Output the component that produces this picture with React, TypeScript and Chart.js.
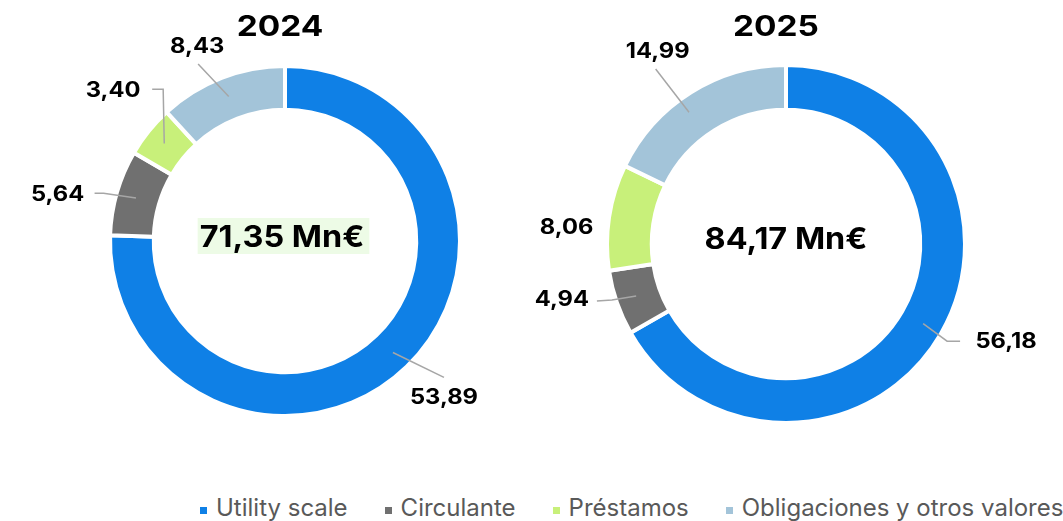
import React, { useEffect, useRef } from 'react';
import { Chart, registerables } from 'chart.js';

Chart.register(...registerables);

const categories = ['Utility scale', 'Circulante', 'Préstamos', 'Obligaciones y otros valores'];
const years = ['2024', '2025'];
const values2024 = [53.89, 5.64, 3.40, 8.43];
const values2025 = [56.18, 4.94, 8.06, 14.99];
const totalLabels = ['71,35 Mn€', '84,17 Mn€'];
const segmentColors = ['#0F80E6', '#707070', '#C8F07A', '#A3C4D9'];

const FONT = 'Inter, "Noto Sans", sans-serif';
const fmt = (v: number) => v.toFixed(2).replace('.', ',');

type LabelPos = { dr: number; da: number; line: number[][]; ringDa?: number; ringDr?: number };

const layout2024: LabelPos[] = [
  { dr: 48, da: -1.4, line: [[0, -20]] },
  { dr: 57, da: -4.7, line: [[37, -2], [46, -2]] },
  { dr: 53, da: 2.2, line: [[39, -2], [50, -2]] },
  { dr: 38, da: -3.1, line: [[1, 17]] },
];
const layout2025: LabelPos[] = [
  { dr: 62, da: -6.1, line: [[-46, -1], [-59, -1]] },
  { dr: 52, da: 5.1, line: [[35, 1], [50, 0]] },
  { dr: 41, da: -4.4, line: [] },
  { dr: 52, da: -1.7, line: [[-2, 17]], ringDa: -4.3, ringDr: 7 },
];

function drawText(ctx: CanvasRenderingContext2D, text: string, x: number, y: number, sx: number) {
  ctx.save();
  ctx.translate(x, y);
  ctx.scale(sx, 1);
  ctx.fillText(text, 0, 0);
  ctx.restore();
}

const labelPlugin = {
  id: 'donutLabels',
  afterDatasetsDraw(chart: any, _args: any, opts: any) {
    const ctx = chart.ctx as CanvasRenderingContext2D;
    const meta = chart.getDatasetMeta(0);
    const data = chart.data.datasets[0].data as number[];
    let cx = 0;
    let cy = 0;
    ctx.save();
    meta.data.forEach((arc: any, i: number) => {
      const p = arc.getProps(['x', 'y', 'startAngle', 'endAngle', 'innerRadius', 'outerRadius'], true);
      cx = p.x;
      cy = p.y;
      const mid = (p.startAngle + p.endAngle) / 2;
      const L: LabelPos = opts.layout[i];
      const la = mid + (L.da * Math.PI) / 180;
      const lr = p.outerRadius + L.dr;
      const lx = p.x + lr * Math.cos(la);
      const ly = p.y + lr * Math.sin(la);
      if (L.line.length) {
        const ra = mid + ((L.ringDa || 0) * Math.PI) / 180;
        const rr = (p.innerRadius + p.outerRadius) / 2 + (L.ringDr ?? 2);
        ctx.beginPath();
        ctx.moveTo(p.x + rr * Math.cos(ra), p.y + rr * Math.sin(ra));
        for (let k = L.line.length - 1; k >= 0; k--) {
          ctx.lineTo(lx + L.line[k][0], ly + L.line[k][1]);
        }
        ctx.strokeStyle = '#A6A6A6';
        ctx.lineWidth = 1.5;
        ctx.stroke();
      }
      ctx.fillStyle = '#000000';
      ctx.font = `700 21px ${FONT}`;
      ctx.textAlign = 'center';
      ctx.textBaseline = 'middle';
      drawText(ctx, fmt(data[i]), lx, ly, 1.13);
    });

    // title
    ctx.font = `700 29px ${FONT}`;
    ctx.textAlign = 'center';
    ctx.textBaseline = 'middle';
    ctx.fillStyle = '#000000';
    drawText(ctx, opts.title, cx + opts.titleDx, opts.titleY, 1.15);

    // center total
    ctx.font = `700 30px ${FONT}`;
    const sx = 1.08;
    const tw = ctx.measureText(opts.total).width * sx;
    const tx = cx + opts.totalDx;
    const ty = cy + opts.totalDy;
    if (opts.highlight) {
      ctx.fillStyle = opts.highlight;
      ctx.fillRect(tx - tw / 2 - 2, ty - 20, tw + 7, 36);
    }
    ctx.fillStyle = '#000000';
    drawText(ctx, opts.total, tx, ty, sx);
    ctx.restore();
  },
};

type DonutProps = {
  values: number[];
  title: string;
  total: string;
  layout: LabelPos[];
  radius: number;
  left: number;
  width: number;
  height: number;
  titleDx: number;
  totalDx: number;
  totalDy: number;
  highlight?: string;
};

function Donut(props: DonutProps) {
  const ref = useRef<HTMLCanvasElement | null>(null);
  useEffect(() => {
    if (!ref.current) return;
    const chart = new Chart(ref.current, {
      type: 'doughnut',
      data: {
        labels: categories,
        datasets: [
          {
            data: props.values,
            backgroundColor: segmentColors,
            borderColor: '#FFFFFF',
            borderWidth: 4,
            hoverOffset: 0,
          },
        ],
      },
      options: {
        responsive: false,
        animation: false,
        radius: props.radius,
        cutout: '75%',
        rotation: 0,
        layout: { padding: 0 },
        events: [],
        plugins: {
          legend: { display: false },
          tooltip: { enabled: false },
          title: { display: false },
          donutLabels: {
            layout: props.layout,
            title: props.title,
            titleDx: props.titleDx,
            titleY: 27,
            total: props.total,
            totalDx: props.totalDx,
            totalDy: props.totalDy,
            highlight: props.highlight,
          },
        } as any,
      },
      plugins: [labelPlugin],
    });
    return () => chart.destroy();
  }, []);
  return (
    <canvas
      ref={ref}
      width={props.width}
      height={props.height}
      style={{ position: 'absolute', left: props.left, top: 0, width: props.width, height: props.height }}
    />
  );
}

export default function App() {
  return (
    <div
      style={{
        position: 'fixed',
        left: 0,
        top: 0,
        width: 1063,
        height: 521,
        overflow: 'hidden',
        background: '#FFFFFF',
      }}
    >
      <Donut
        values={values2024}
        title={years[0]}
        total={totalLabels[0]}
        layout={layout2024}
        radius={175}
        left={0}
        width={570}
        height={482}
        titleDx={-5}
        totalDx={-3}
        totalDy={-3}
        highlight="#EDFBE6"
      />
      <Donut
        values={values2025}
        title={years[1]}
        total={totalLabels[1]}
        layout={layout2025}
        radius={179}
        left={500}
        width={572}
        height={488}
        titleDx={-10}
        totalDx={0}
        totalDy={-4}
      />
      <div
        style={{
          position: 'absolute',
          left: 200,
          top: 493,
          display: 'flex',
          alignItems: 'center',
          whiteSpace: 'nowrap',
          fontFamily: FONT,
          fontSize: 24,
          color: '#595959',
          lineHeight: '30px',
        }}
      >
        {categories.map((c, i) => (
          <div key={c} style={{ display: 'flex', alignItems: 'center', marginRight: 37 }}>
            <span
              style={{
                display: 'inline-block',
                width: 7,
                height: 7,
                background: segmentColors[i],
                marginRight: 9,
                marginTop: 4,
              }}
            />
            <span>{c}</span>
          </div>
        ))}
      </div>
    </div>
  );
}
